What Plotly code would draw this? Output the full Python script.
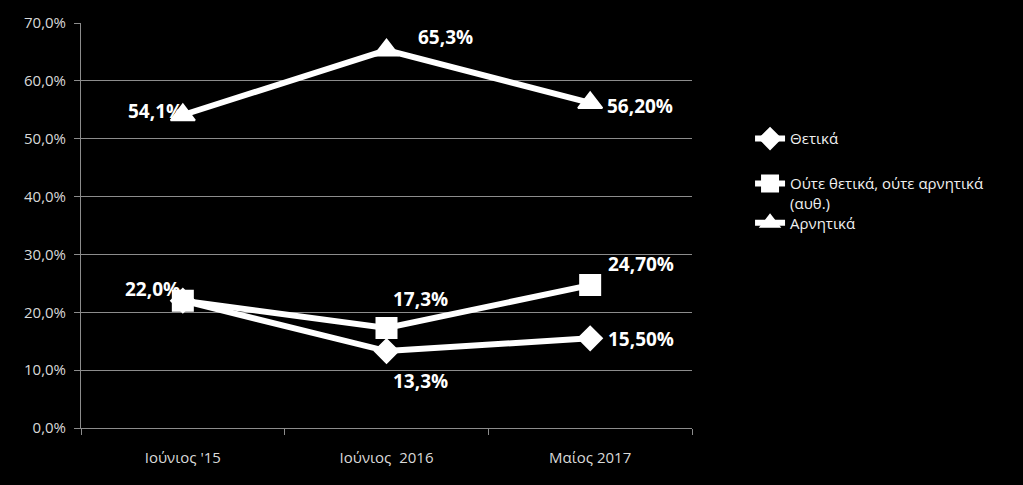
import plotly.graph_objects as go

categories = ["Ιούνιος '15", "Ιούνιος  2016", "Μαίος 2017"]
series_names = ["Θετικά", "Ούτε θετικά, ούτε αρνητικά<br>(αυθ.)", "Αρνητικά"]
thetika = [22.0, 13.3, 15.5]
oute = [22.0, 17.3, 24.7]
arnitika = [54.1, 65.3, 56.2]
thetika_labels = [None, "13,3%", "15,50%"]
oute_labels = ["22,0%", "17,3%", "24,70%"]
arnitika_labels = ["54,1%", "65,3%", "56,20%"]
y_ticks = [0, 10, 20, 30, 40, 50, 60, 70]
y_tick_labels = ["0,0%", "10,0%", "20,0%", "30,0%", "40,0%", "50,0%", "60,0%", "70,0%"]

FONT = "Open Sans"
WHITE = "#ffffff"
GRID = "#8c8c8c"

fig = go.Figure()
series = [
    (thetika, "diamond", 18, "legend"),
    (oute, "square", 20, "legend2"),
    (arnitika, "triangle-up", 21, "legend3"),
]
for name, (vals, sym, size, leg) in zip(series_names, series):
    fig.add_trace(go.Scatter(
        x=categories, y=vals, name=name, mode="lines+markers",
        line=dict(color=WHITE, width=6),
        marker=dict(symbol=sym, size=size, color=WHITE,
                    line=dict(color=WHITE, width=2)),
        legend=leg, hoverinfo="skip",
    ))

# label placement: (xanchor, xshift, yshift) per point
label_sets = [
    (thetika, thetika_labels, [None, ("left", 4, -30), ("left", 16, -1)]),
    (oute, oute_labels, [("right", -1, 12), ("left", 4, 29), ("left", 16, 21)]),
    (arnitika, arnitika_labels, [("right", 2, 4), ("left", 29, 13), ("left", 15, -3)]),
]
for vals, labels, places in label_sets:
    for c, v, t, p in zip(categories, vals, labels, places):
        if t is None:
            continue
        xa, xs, ys = p
        fig.add_annotation(x=c, y=v, text=t, showarrow=False, xanchor=xa,
                           yanchor="middle", xshift=xs, yshift=ys,
                           font=dict(family=FONT, size=19, color=WHITE, weight="bold"))

leg_common = dict(font=dict(family=FONT, size=15, color="#f0f0f0"),
                  bgcolor="rgba(0,0,0,0)", xanchor="left", yanchor="middle",
                  valign="top", itemwidth=30, tracegroupgap=0)
fig.update_layout(
    width=1023, height=485,
    margin=dict(l=81, r=331, t=18, b=57),
    paper_bgcolor="#000000", plot_bgcolor="#000000",
    showlegend=True,
    legend=dict(x=1.095, y=0.714, **leg_common),
    legend2=dict(x=1.095, y=0.5796, **leg_common),
    legend3=dict(x=1.095, y=0.506, **leg_common),
    xaxis=dict(type="category", range=[-0.5, 2.5], showgrid=False,
               showline=True, linecolor=GRID, linewidth=1,
               ticks="outside", tickson="boundaries", ticklen=6, tickcolor=GRID,
               ticklabelstandoff=16,
               tickfont=dict(family=FONT, size=15, color="#d9d9d9"),
               fixedrange=True),
    yaxis=dict(range=[0, 70], tickvals=y_ticks, ticktext=y_tick_labels,
               showgrid=True, gridcolor=GRID, gridwidth=1,
               showline=True, linecolor=GRID, linewidth=1,
               ticks="outside", ticklen=6, tickcolor=GRID, zeroline=False,
               ticklabelstandoff=5,
               tickfont=dict(family=FONT, size=15, color="#d9d9d9"),
               fixedrange=True),
)
fig.write_html("out.html", config={"displayModeBar": False})
